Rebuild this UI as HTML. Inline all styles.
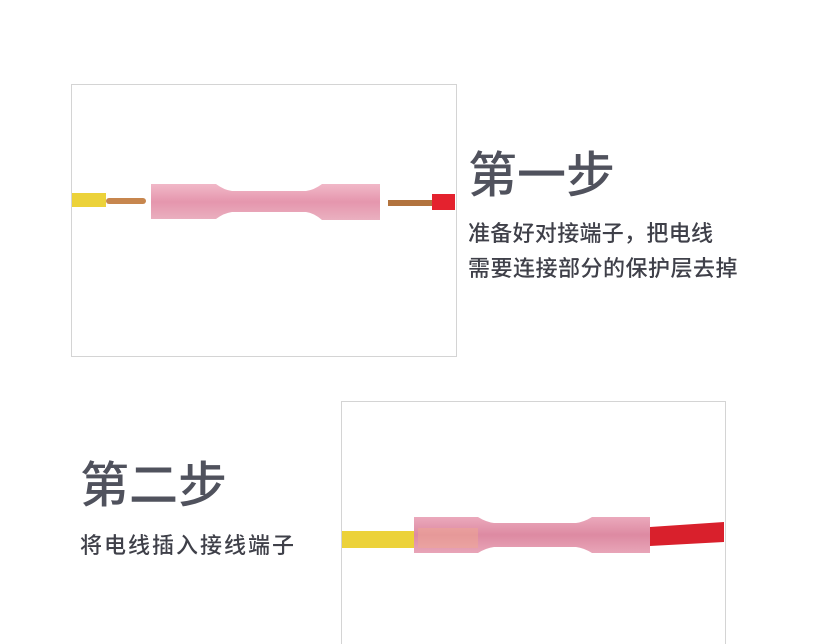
<!DOCTYPE html>
<html><head><meta charset="utf-8"><style>
html,body{margin:0;padding:0;background:#fff;width:816px;height:644px;overflow:hidden;position:relative;font-family:"Liberation Sans","Noto Sans CJK SC",sans-serif}
.box{position:absolute;border:1px solid #d4d4d4;background:#fff}
.t{position:absolute;color:#50525d;font-size:49px;line-height:1;white-space:nowrap;font-weight:500}
.s{position:absolute;color:#3f4049;font-size:22px;line-height:1;white-space:nowrap;font-weight:500}
</style></head><body>
<div class="box" style="left:71px;top:84px;width:384px;height:271px"></div>
<div class="box" style="left:341px;top:401px;width:383px;height:260px"></div>
<svg width="816" height="644" style="position:absolute;left:0;top:0">
<defs>
<linearGradient id="tb" x1="0" y1="0" x2="0" y2="1">
<stop offset="0" stop-color="#f1b8c8"/><stop offset="0.5" stop-color="#e596ad"/><stop offset="1" stop-color="#eab0c0"/></linearGradient>
<linearGradient id="tb2" x1="0" y1="0" x2="0" y2="1">
<stop offset="0" stop-color="#eba9bc"/><stop offset="0.5" stop-color="#dd8aa2"/><stop offset="1" stop-color="#e8a5b8"/></linearGradient>
</defs>
<rect x="72" y="193" width="34" height="14" fill="#ecd23a"/>
<rect x="106" y="198" width="40" height="6" fill="#c7864e" rx="3"/>
<rect x="388" y="200" width="45" height="6" fill="#b2733e"/>
<rect x="432" y="194" width="23" height="16" fill="#e4222e"/>
<path d="M151 184 L216 184 Q224 190 232 191 L306 191 Q314 190 322 184 L380 184 L380 220 L322 220 Q314 213 306 212 L232 212 Q224 213 216 219 L151 219 Z" fill="url(#tb)"/>
<rect x="342" y="531" width="74" height="17" fill="#ecd23a"/>
<path d="M650 527 L724 522 L724 542 L650 546 Z" fill="#d9202c"/>
<path d="M414 517 L478 517 Q486 522 494 523 L576 523 Q584 522 592 517 L650 517 L650 553 L592 553 Q584 548 576 547 L494 547 Q486 548 478 553 L414 553 Z" fill="url(#tb2)"/>
<rect x="418" y="528" width="60" height="20" fill="#f0a890" opacity="0.5"/>
</svg>
<div class="t" style="left:468px;top:152px">第一步</div>
<div class="s" style="left:468px;top:223px;letter-spacing:0.3px">准备好对接端子，把电线</div>
<div class="s" style="left:468px;top:258px;letter-spacing:0.5px">需要连接部分的保护层去掉</div>
<div class="t" style="left:80px;top:462px">第二步</div>
<div class="s" style="left:80px;top:535px;letter-spacing:2px">将电线插入接线端子</div>
</body></html>
